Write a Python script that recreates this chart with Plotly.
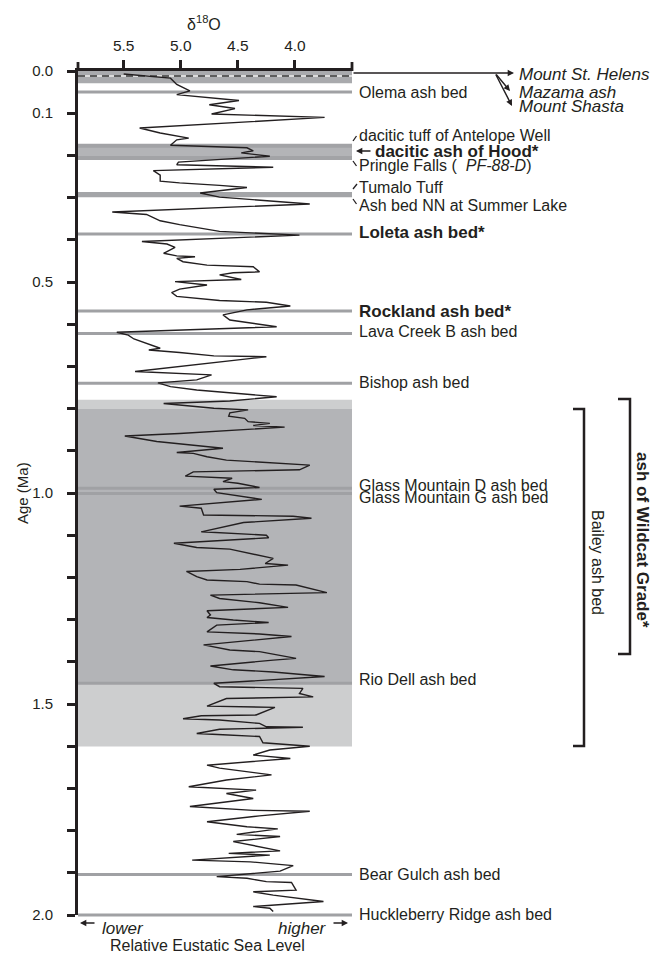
import plotly.graph_objects as go

# ---------------- data ----------------
d18o = [5.50, 5.09, 5.035, 4.92, 5.035, 4.49, 4.75, 4.525, 4.73, 3.74,
        5.36, 5.18, 4.93, 5.035, 5.09, 4.42, 4.365, 4.47, 4.22, 5.02,
        5.035, 4.19, 5.24, 5.18, 5.18, 5.01, 4.66, 4.42, 4.83, 4.66,
        3.87, 5.60, 5.30, 5.18, 5.01, 4.66, 3.96, 5.34,
        5.12, 5.05, 5.15, 5.035, 4.875, 5.035, 4.98, 4.77, 4.365, 4.31,
        4.54, 4.66, 4.47, 5.05, 4.77, 5.01, 5.08, 5.035, 4.66, 4.25,
        4.04, 4.42, 4.63, 4.57, 4.16, 4.685, 4.95, 5.56, 5.46, 5.41,
        5.18, 5.28, 5.01, 4.71, 4.25, 4.71, 5.09, 5.40, 4.73, 4.86,
        5.20, 5.09, 4.86, 4.48, 4.16, 4.57, 5.15, 4.71, 4.41,
        4.57, 4.58, 4.44, 4.41, 4.22, 4.365, 4.09, 5.01, 5.49, 5.21,
        4.63, 5.035, 4.89, 4.77, 4.60, 4.28, 3.87, 3.96, 4.48, 4.89,
        4.96, 4.55, 4.63, 4.50, 4.31, 4.71, 4.685, 4.29, 5.01, 4.82,
        4.80, 4.015, 3.855, 4.45, 4.82, 4.25, 4.23, 5.06, 4.86, 4.57,
        4.19, 4.26, 4.06, 4.48, 4.95, 4.86,
        4.77, 4.42, 4.31, 3.99, 3.72, 4.74, 4.66, 4.31, 4.06, 4.77,
        4.74, 4.77, 4.54, 4.23, 4.685, 4.77, 4.31, 4.03, 4.80, 4.57,
        4.31, 3.99, 4.19, 4.74, 4.54, 4.19, 3.74, 4.71, 4.66, 3.93,
        3.96, 3.84, 4.60, 4.77, 4.175, 4.34, 4.82, 4.98, 4.66, 4.31,
        4.25, 3.93, 4.66, 4.86, 4.63, 4.31, 4.28, 3.87,
        4.22, 4.365, 4.04, 4.77, 4.66, 4.205, 4.60, 4.93, 4.34, 4.60,
        4.365, 4.92, 4.365, 3.87, 4.31, 4.77, 4.42, 4.15, 4.51, 4.13,
        4.54, 4.13, 4.58, 4.22, 4.90, 4.39, 4.015, 4.13, 4.685, 4.42,
        4.25, 4.03, 3.99, 4.365, 4.19, 3.75, 4.365, 4.22, 4.19]
age = [0.007, 0.017, 0.032, 0.047, 0.056, 0.070, 0.080, 0.089, 0.102, 0.110,
       0.135, 0.147, 0.159, 0.163, 0.176, 0.182, 0.189, 0.194, 0.202, 0.216,
       0.222, 0.228, 0.236, 0.247, 0.261, 0.265, 0.271, 0.276, 0.289, 0.299,
       0.315, 0.334, 0.340, 0.355, 0.364, 0.380, 0.389, 0.404,
       0.410, 0.418, 0.432, 0.438, 0.440, 0.444, 0.452, 0.460, 0.464, 0.476,
       0.478, 0.483, 0.494, 0.499, 0.507, 0.517, 0.525, 0.534, 0.544, 0.548,
       0.557, 0.566, 0.578, 0.590, 0.606, 0.611, 0.614, 0.619, 0.626, 0.635,
       0.657, 0.661, 0.667, 0.675, 0.677, 0.691, 0.702, 0.712, 0.720, 0.732,
       0.739, 0.748, 0.756, 0.765, 0.772, 0.782, 0.788, 0.799, 0.803,
       0.810, 0.818, 0.823, 0.831, 0.835, 0.840, 0.844, 0.859, 0.865, 0.878,
       0.894, 0.904, 0.906, 0.914, 0.922, 0.928, 0.934, 0.945, 0.947, 0.950,
       0.960, 0.965, 0.973, 0.977, 0.987, 0.991, 0.999, 1.015, 1.031, 1.036,
       1.052, 1.055, 1.060, 1.070, 1.092, 1.100, 1.106, 1.119, 1.129, 1.133,
       1.155, 1.167, 1.171, 1.181, 1.186, 1.198,
       1.206, 1.210, 1.216, 1.218, 1.236, 1.242, 1.250, 1.260, 1.271, 1.279,
       1.289, 1.295, 1.301, 1.307, 1.313, 1.329, 1.334, 1.340, 1.360, 1.372,
       1.376, 1.392, 1.396, 1.410, 1.419, 1.424, 1.435, 1.451, 1.459, 1.463,
       1.475, 1.483, 1.487, 1.505, 1.508, 1.526, 1.528, 1.535, 1.538, 1.546,
       1.554, 1.555, 1.560, 1.570, 1.573, 1.577, 1.592, 1.600,
       1.609, 1.621, 1.629, 1.645, 1.652, 1.668, 1.680, 1.696, 1.704, 1.712,
       1.724, 1.743, 1.752, 1.754, 1.765, 1.779, 1.791, 1.796, 1.809, 1.814,
       1.826, 1.848, 1.854, 1.858, 1.870, 1.874, 1.883, 1.896, 1.909, 1.913,
       1.921, 1.923, 1.941, 1.945, 1.953, 1.968, 1.980, 1.984, 1.992]

# ash-bed marker lines (age, Ma)
line_beds = ["Olema", "Loleta", "Rockland", "Lava Creek B", "Bishop",
             "Glass Mountain D", "Glass Mountain G", "Rio Dell", "Bear Gulch"]
line_ages = [0.050, 0.386, 0.569, 0.622, 0.740, 0.989, 1.001, 1.451, 1.904]

# shaded bands (age ranges)
band_names = ["Wildcat Grade", "Bailey", "Holocene", "Hood", "Tumalo"]
band_top = [0.779, 0.801, 0.000, 0.173, 0.287]
band_bot = [1.601, 1.451, 0.029, 0.210, 0.299]

# right-hand labels
label_text = ["Olema ash bed", "dacitic tuff of Antelope Well",
              "<b>dacitic ash of Hood*</b>",
              "Pringle Falls (  <i>PF-88-D</i>)", "Tumalo Tuff",
              "Ash bed NN at Summer Lake", "<b>Loleta ash bed*</b>",
              "<b>Rockland ash bed*</b>", "Lava Creek B ash bed",
              "Bishop ash bed", "Glass Mountain D ash bed",
              "Glass Mountain G ash bed", "Rio Dell ash bed",
              "Bear Gulch ash bed", "Huckleberry Ridge ash bed"]
label_age = [0.050, 0.152, 0.190, 0.225, 0.275, 0.318, 0.382, 0.569, 0.618,
             0.737, 0.982, 1.010, 1.443, 1.905, 1.998]
label_px = [357, 357, 373, 357, 357, 357, 357, 357, 357, 357, 357, 357, 357,
            357, 357]

top_text = ["Mount St. Helens", "Mazama ash", "Mount Shasta"]
top_age = [0.009, 0.050, 0.085]

y_ticks = [0.0, 0.1, 0.5, 1.0, 1.5, 2.0]
y_ticklabels = ["0.0", "0.1", "0.5", "1.0", "1.5", "2.0"]
y_minor = [round(i * 0.1, 1) for i in range(21)]
x_ticks = [5.5, 5.0, 4.5, 4.0]
x_ticklabels = ["5.5", "5.0", "4.5", "4.0"]

# ---------------- layout helpers ----------------
W, H = 657, 955
L, R, T, B = 78, 352, 71, 915
TXT = "#231f20"
FONT = "Liberation Sans, Arial, sans-serif"


def px(x):
    return (x - L) / (R - L)


def py(y):
    return 1 - (y - T) / (B - T)


fig = go.Figure()
fig.add_trace(go.Scatter(x=d18o, y=age, mode="lines",
                         line=dict(color="#231f20", width=1.4),
                         hoverinfo="skip", showlegend=False))

shapes = []
band_cols = ["#cdcecf", "#b3b4b7", "#a9aaad", "#b3b4b7", "#a4a5a8"]
for t, b, c in zip(band_top, band_bot, band_cols):
    shapes.append(dict(type="rect", xref="paper", yref="y", x0=0, x1=1,
                       y0=t, y1=b, fillcolor=c, line=dict(width=0),
                       layer="below"))
# darker edges of Hood band
for a in [0.177, 0.206]:
    shapes.append(dict(type="line", xref="paper", yref="y", x0=0, x1=1,
                       y0=a, y1=a, line=dict(color="#a2a3a6", width=4),
                       layer="below"))
for a, n in zip(line_ages, line_beds):
    shapes.append(dict(type="line", xref="paper", yref="y", x0=0, x1=1,
                       y0=a, y1=a, line=dict(color="#a0a1a4", width=3),
                       layer="below"))
# Huckleberry Ridge at the bottom edge (unclipped)
shapes.append(dict(type="line", xref="paper", yref="paper", x0=0, x1=1,
                   y0=0, y1=0, line=dict(color="#a0a1a4", width=3),
                   layer="below"))
# dashed Mazama line
shapes.append(dict(type="line", xref="paper", yref="y", x0=0, x1=1,
                   y0=0.012, y1=0.012, line=dict(color="#dcdcdc", width=2),
                   layer="below"))
shapes.append(dict(type="line", xref="paper", yref="y", x0=0, x1=1,
                   y0=0.012, y1=0.012,
                   line=dict(color="#333333", width=1.6, dash="7px,5px"),
                   layer="below"))
# axis corner extensions (top-left and top-right)
for xc in [L, R]:
    shapes.append(dict(type="line", xref="paper", yref="paper",
                       x0=px(xc), x1=px(xc), y0=py(T), y1=py(62),
                       line=dict(color=TXT, width=2.8)))
# small leader strokes
for (x0, y0, x1, y1) in [(356.5, 136, 353, 141), (356.5, 166, 353, 161),
                         (357, 184, 353, 189), (356.5, 204, 353, 199)]:
    shapes.append(dict(type="line", xref="paper", yref="paper",
                       x0=px(x0), x1=px(x1), y0=py(y0), y1=py(y1),
                       line=dict(color=TXT, width=1.3)))
# brackets
for (xv, xl, yt, yb) in [(584, 573, 409, 746), (630, 618, 399, 654)]:
    shapes.append(dict(type="path", xref="paper", yref="paper",
                       path=f"M {px(xl)} {py(yt)} L {px(xv)} {py(yt)} "
                            f"L {px(xv)} {py(yb)} L {px(xl)} {py(yb)}",
                       line=dict(color=TXT, width=2.5)))

ann = []
for t, a, x in zip(label_text, label_age, label_px):
    bold = t.startswith("<b>")
    ann.append(dict(text=t, x=px(x), y=a, xref="paper", yref="y",
                    xanchor="left", yanchor="middle", showarrow=False,
                    font=dict(size=17 if bold else 16, color=TXT,
                              family=FONT)))
for t, a in zip(top_text, top_age):
    ann.append(dict(text=f"<i>{t}</i>", x=px(517), y=a, xref="paper",
                    yref="y", xanchor="left", yanchor="middle",
                    showarrow=False,
                    font=dict(size=17, color=TXT, family=FONT)))
# arrows
arrow_specs = [(514, 73, 352 - 514, 0), (510, 91, -15, -18),
               (512, 106, -17, -33), (356, 151, 16, 0),
               (80, 923, 16, 0), (348, 923, -16, 0)]
for (hx, hy, ax, ay) in arrow_specs:
    ann.append(dict(text="", x=px(hx), y=py(hy), xref="paper", yref="paper",
                    showarrow=True, ax=ax, ay=ay, arrowhead=2,
                    arrowsize=0.9, arrowwidth=1.4, arrowcolor=TXT,
                    standoff=0, startstandoff=0))
ann += [
    dict(text="δ<sup>18</sup>O", x=px(204), y=py(23), xref="paper",
         yref="paper", showarrow=False, xanchor="center", yanchor="middle",
         font=dict(size=16, color=TXT, family=FONT)),
    dict(text="Age (Ma)", x=px(22), y=py(493), xref="paper", yref="paper",
         showarrow=False, textangle=-90, xanchor="center", yanchor="middle",
         font=dict(size=15, color=TXT, family=FONT)),
    dict(text="<i>lower</i>", x=px(100), y=py(928), xref="paper",
         yref="paper", showarrow=False, xanchor="left", yanchor="middle",
         font=dict(size=17, color=TXT, family=FONT)),
    dict(text="<i>higher</i>", x=px(329), y=py(928), xref="paper",
         yref="paper", showarrow=False, xanchor="right", yanchor="middle",
         font=dict(size=17, color=TXT, family=FONT)),
    dict(text="Relative Eustatic Sea Level", x=px(207), y=py(946),
         xref="paper", yref="paper", showarrow=False, xanchor="center",
         yanchor="middle", font=dict(size=16, color=TXT, family=FONT)),
    dict(text="Bailey ash bed", x=px(598), y=py(562), xref="paper",
         yref="paper", showarrow=False, textangle=90, xanchor="center",
         yanchor="middle", font=dict(size=16, color=TXT, family=FONT)),
    dict(text="<b>ash of Wildcat Grade*</b>", x=px(643), y=py(540),
         xref="paper", yref="paper", showarrow=False, textangle=90,
         xanchor="center", yanchor="middle",
         font=dict(size=17, color=TXT, family=FONT)),
]

tick_style = dict(ticks="outside", ticklen=8, tickwidth=2.5,
                  tickcolor="#231f20")

fig.update_layout(
    width=W, height=H, autosize=False,
    margin=dict(l=L, r=W - R, t=T, b=H - B, pad=0),
    paper_bgcolor="white", plot_bgcolor="white",
    font=dict(family=FONT, color=TXT),
    shapes=shapes, annotations=ann, showlegend=False,
    xaxis=dict(side="top", range=[5.9, 3.5], tickvals=x_ticks,
               ticktext=x_ticklabels, showline=True,
               linewidth=3, linecolor="#231f20", showgrid=False,
               zeroline=False, tickfont=dict(size=15.5, color=TXT),
               ticklabelstandoff=3, **tick_style),
    yaxis=dict(range=[2.0, 0.0], tickvals=y_ticks, ticktext=y_ticklabels,
               showline=True, linewidth=3,
               linecolor="#231f20", showgrid=False, zeroline=False,
               tickfont=dict(size=15, color=TXT), ticklabelstandoff=11,
               minor=dict(tickvals=y_minor, showgrid=False, **tick_style),
               **tick_style),
)

fig.write_html(
    "out.html",
    config={"displayModeBar": False},
    post_script="document.body.style.margin='0';"
                "document.body.style.overflow='hidden';",
)
